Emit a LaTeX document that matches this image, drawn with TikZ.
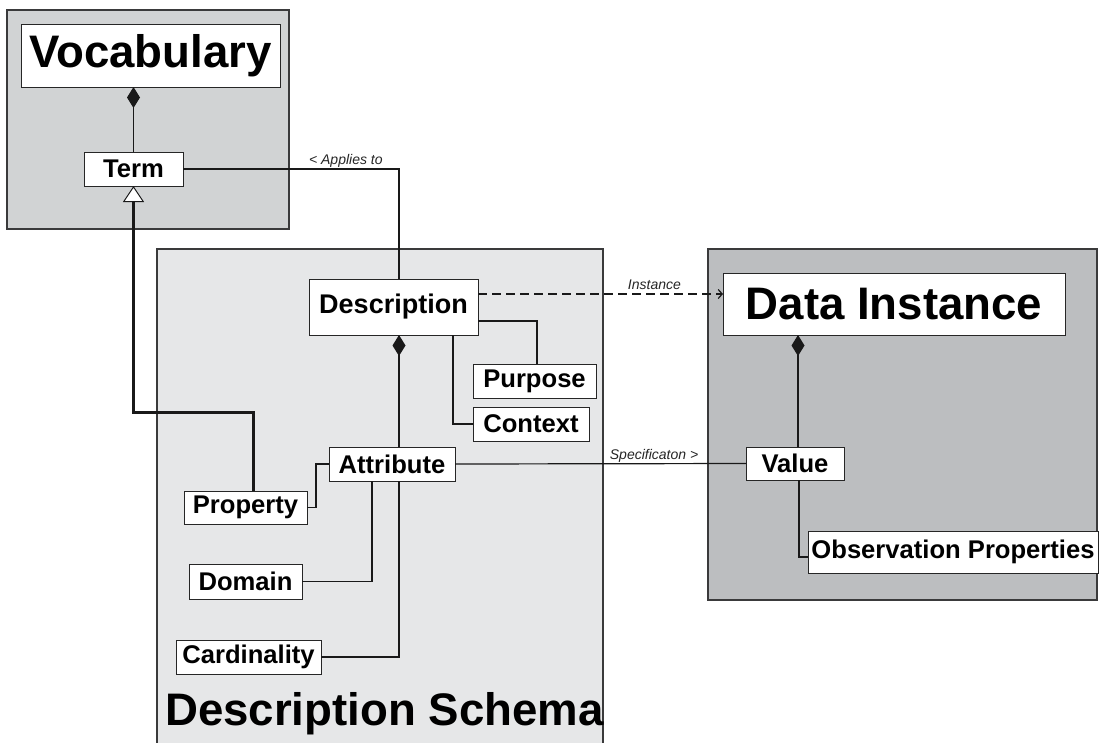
\documentclass[tikz,border=0pt]{standalone}
\usepackage{fontspec}
\setmainfont{Liberation Sans}
\usetikzlibrary{arrows.meta}
\definecolor{vocabgray}{HTML}{D1D3D4}
\definecolor{schemagray}{HTML}{E6E7E8}
\definecolor{datagray}{HTML}{BCBEC0}
\definecolor{framegray}{HTML}{3A3A3B}
\tikzset{
    classnode/.style = {
        align=center,
        text centered,
        font=\fontsize{25.6}{28}\selectfont\bfseries,
        rectangle,
        draw=black!85,
        fill=white,
        line width=1pt,
        inner sep=0pt,
        outer sep=0pt
    },
    titlenode/.style = {
        classnode,
        font=\fontsize{45.6}{50}\selectfont\bfseries
    },
    package/.style = {
        draw=framegray,
        line width=1.3pt
    },
    link/.style = {
        draw=black!90,
        line width=1.2pt
    },
    compose/.style = {
        link,
        -{Diamond[length=21pt,width=13pt]}
    },
    generalize/.style = {
        draw=black!90,
        line width=3pt,
        -{Triangle[fill=white,length=16pt,width=21pt,line width=1pt]}
    },
    instanceof/.style = {
        link,
        dash pattern=on 9pt off 5pt,
        -{Straight Barb[length=4pt,width=9pt,line width=1.2pt]}
    },
    linklabel/.style = {
        font=\fontsize{14}{16}\selectfont\itshape,
        text=black!85,
        text height=10pt,
        text depth=3pt,
        inner sep=1pt
    }
}

\begin{document}
\begin{tikzpicture}[x=1pt,y=-1pt]
    \useasboundingbox (0,0) rectangle (1099,742);
    \fill[white] (0,0) rectangle (1099,742);

    \filldraw[package, fill=vocabgray] (7,10) rectangle (289,229);
    \filldraw[package, fill=schemagray] (157,745) -- (157,249) -- (603,249) -- (603,745);
    \filldraw[package, fill=datagray] (708,249) rectangle (1097,600);

    \node [titlenode, minimum width=259pt, minimum height=63pt] (vocab) at (150.5,55.5) {Vocabulary};
    \node [classnode, minimum width=99pt, minimum height=34pt] (term) at (133.5,169) {Term};

    \node [classnode, minimum width=169pt, minimum height=56pt, font=\fontsize{27}{30}\selectfont\bfseries] (description) at (393.5,307) {Description};
    \node [classnode, minimum width=123pt, minimum height=34pt] (purpose) at (534.5,381) {Purpose};
    \node [classnode, minimum width=116pt, minimum height=34pt] (context) at (531,424) {Context};
    \node [classnode, minimum width=126pt, minimum height=34pt] (attribute) at (392,464) {Attribute};
    \node [classnode, minimum width=123pt, minimum height=33pt] (property) at (245.5,507.5) {Property};
    \node [classnode, minimum width=113pt, minimum height=35pt] (domain) at (245.5,581.5) {Domain};
    \node [classnode, minimum width=145pt, minimum height=34pt] (cardinality) at (248.5,657) {Cardinality};
    \node [anchor=base west, inner sep=0pt, font=\fontsize{45.6}{50}\selectfont\bfseries] (schematitle) at (165,725) {Description Schema};

    \node [titlenode, minimum width=342pt, minimum height=62pt] (datainstance) at (894,304) {Data Instance};
    \node [classnode, minimum width=98pt, minimum height=33pt] (value) at (795,463.5) {Value};
    \node [classnode, minimum width=290pt, minimum height=42pt] (observation) at (953,552) {Observation Properties};

    \draw [compose] (term.north) -- (term.north |- vocab.south);
    \draw [generalize] ([xshift=7.5pt]property.north) |- (133.5,412) -- (term.south);
    \draw [link] (term.east) -| node [linklabel, pos=0.377, above] {< Applies to} ([xshift=5.5pt]description.north);

    \draw [compose] ([xshift=7pt]attribute.north) -- ([xshift=5.5pt]description.south);
    \draw [link] ([yshift=-14pt]description.east) -| ([xshift=2.5pt]purpose.north);
    \draw [link] ([xshift=59.5pt]description.south) |- (context.west);
    \draw [link] (property.east) -- ++(9,0) |- (attribute.west);
    \draw [link] ([xshift=-20pt]attribute.south) |- (domain.east);
    \draw [link] ([xshift=7pt]attribute.south) |- (cardinality.east);

    \draw [instanceof] ([yshift=13pt]description.east) -- node [linklabel, pos=0.72, above] {Instance} ([yshift=10pt]datainstance.west);
    \draw [link] (attribute.east) -- node [linklabel, pos=0.684, above] {Specificaton >} (value.west);

    \draw [compose] ([xshift=3pt]value.north) -- ([xshift=3pt]value.north |- datainstance.south);
    \draw [link] ([xshift=4pt]value.south) |- ([yshift=-5pt]observation.west);
\end{tikzpicture}
\end{document}
